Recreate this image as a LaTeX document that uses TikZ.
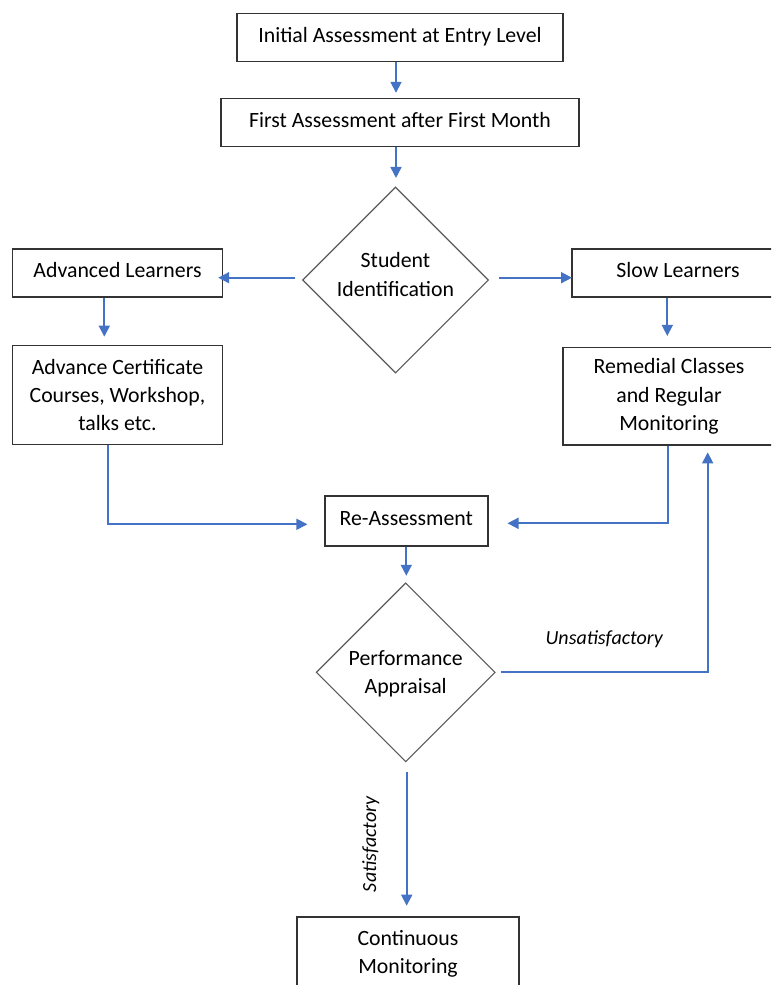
\documentclass[tikz,border=0pt]{standalone}
\usepackage{fontspec}
\setmainfont{Carlito}
\usetikzlibrary{shapes.geometric,arrows.meta}
\definecolor{arrblue}{HTML}{4472C4}
\definecolor{boxc}{HTML}{333333}
\definecolor{diac}{HTML}{5A5A5A}
\begin{document}
\begin{tikzpicture}[x=1pt,y=-1pt,
  stepbox/.style={draw=boxc, line width=1.4pt, fill=white, inner sep=0pt, align=center,
    font=\fontsize{21.8}{28.3}\selectfont},
  oneline/.style={text height=16pt, text depth=6.8pt},
  diam/.style={draw=diac, line width=1.1pt, diamond, aspect=1, inner sep=0pt},
  dtext/.style={align=center, font=\fontsize{21.8}{28.3}\selectfont},
  arr/.style={draw=arrblue, line width=1.7pt, -{Triangle[length=11pt,width=11pt]}},
  lab/.style={font=\fontsize{20}{24}\selectfont\itshape, inner sep=0pt}]
\clip (0,0) rectangle (771,985);
\fill[white] (0,0) rectangle (771,985);

\node[stepbox, oneline, minimum width=326pt, minimum height=48pt] (b1) at (400,37.5) {Initial Assessment at Entry Level};
\node[stepbox, oneline, minimum width=358pt, minimum height=48pt] (b2) at (400,122.5) {First Assessment after First Month};
\node[diam, minimum size=186pt,
  label={[dtext, yshift=5.5pt]center:Student\\Identification}] (sid) at (395.5,280) {};
\node[stepbox, oneline, minimum width=210pt, minimum height=48pt] (adv) at (117.5,273) {Advanced Learners};
\node[stepbox, oneline, minimum width=212pt, minimum height=48pt] (slow) at (678,273) {Slow Learners};
\node[stepbox, minimum width=210pt, minimum height=98.5pt] (cert) at (117.5,395) {Advance Certificate\\Courses, Workshop,\\talks etc.};
\node[stepbox, minimum width=212pt, minimum height=97.3pt] (rem) at (669,396.3) {Remedial Classes\\and Regular\\Monitoring};
\node[stepbox, oneline, minimum width=163pt, minimum height=50pt] (re) at (406.3,521) {Re-Assessment};
\node[diam, minimum size=179pt,
  label={[dtext, yshift=-1.5pt]center:Performance\\Appraisal}] (pa) at (405.7,672.3) {};
\node[stepbox, minimum width=222pt, minimum height=74pt] (cm) at (408,954) {Continuous\\Monitoring};

\draw[arr, shorten >=5pt] ([xshift=-4pt]b1.south) -- ([xshift=-4pt]b1.south |- b2.north);
\draw[arr, shorten >=8.5pt] ([xshift=-4pt]b2.south) -- ([xshift=-4pt]b2.south |- sid.north);
\draw[arr, shorten >=1.5pt] ([xshift=-6.5pt,yshift=2.3pt]sid.west) -- ([xshift=-6.5pt,yshift=2.3pt]sid.west -| adv.east);
\draw[arr, shorten >=9.3pt] ([xshift=10pt,yshift=2.3pt]sid.east) -- ([xshift=10pt,yshift=2.3pt]sid.east -| slow.west);
\draw[arr, shorten >=8.4pt] ([xshift=-13.2pt]adv.south) -- ([xshift=-13.2pt]adv.south |- cert.north);
\draw[arr, shorten >=11pt] ([xshift=-10.7pt]slow.south) -- ([xshift=-10.7pt]slow.south |- rem.north);
\draw[arr, shorten >=16.7pt] ([xshift=-9.2pt]cert.south) |- ([yshift=-3.3pt]re.west);
\draw[arr, shorten >=19pt] ([xshift=-1.3pt]rem.south) |- ([yshift=-2.3pt]re.east);
\draw[arr, shorten >=6.5pt] (re.south) -- (re.south |- pa.north);
\draw[arr, shorten >=6.7pt] ([xshift=5pt]pa.east) -- node[lab, above=24pt] {Unsatisfactory} ([xshift=38.7pt]pa.east -| rem.south) -- ([xshift=38.7pt]rem.south);
\draw[arr, shorten >=10.6pt] ([xshift=1pt,yshift=-10pt]pa.south) -- node[lab, midway, rotate=90, yshift=36pt] {Satisfactory} ([xshift=1pt]pa.south |- cm.north);
\end{tikzpicture}
\end{document}
